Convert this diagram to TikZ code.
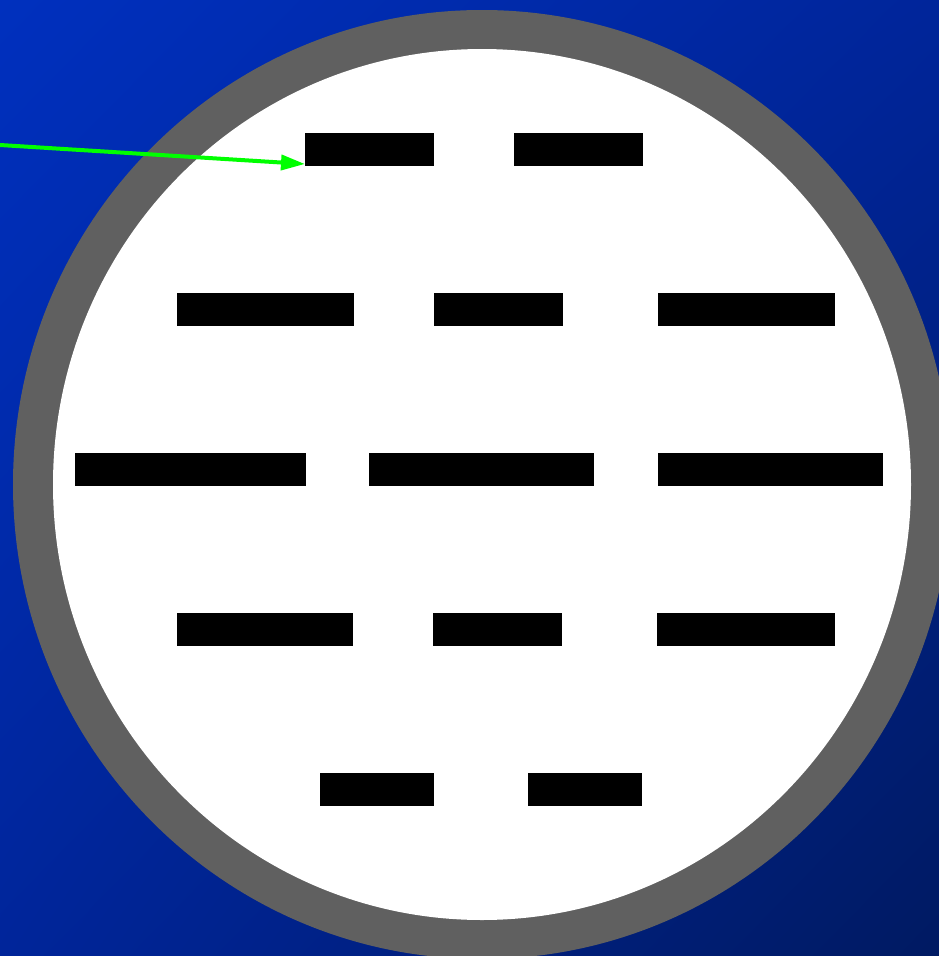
\documentclass[tikz,border=0pt]{standalone}
\usetikzlibrary{arrows.meta,shadings}
\definecolor{bgA}{HTML}{0030BE}
\definecolor{bgB}{HTML}{001A62}
\definecolor{bgC}{HTML}{00259A}
\definecolor{ring}{HTML}{606060}
\definecolor{arrowgreen}{HTML}{00FF00}
\begin{document}
\begin{tikzpicture}[x=1pt,y=-1pt,
  bar/.style={fill=black,draw=none,inner sep=0pt,anchor=north west},
  pointer/.style={draw=arrowgreen,line width=4pt,-{Triangle[length=24pt,width=15pt]}}]
\useasboundingbox (0,0) rectangle (939,956);
\shade[upper left=bgA,upper right=bgC,lower left=bgC,lower right=bgB] (0,0) rectangle (939,956);
\fill[ring] (482,484.5) ellipse [x radius=469, y radius=474.5];
\fill[white] (482,484.5) ellipse [x radius=429, y radius=435.5];
% row 1
\node[bar,minimum width=129pt,minimum height=33pt] (r1a) at (305,133) {};
\node[bar,minimum width=129pt,minimum height=33pt] (r1b) at (514,133) {};
% row 2
\node[bar,minimum width=177pt,minimum height=33pt] (r2a) at (177,293) {};
\node[bar,minimum width=129pt,minimum height=33pt] (r2b) at (434,293) {};
\node[bar,minimum width=177pt,minimum height=33pt] (r2c) at (658,293) {};
% row 3
\node[bar,minimum width=231pt,minimum height=33pt] (r3a) at (75,453) {};
\node[bar,minimum width=225pt,minimum height=33pt] (r3b) at (369,453) {};
\node[bar,minimum width=225pt,minimum height=33pt] (r3c) at (658,453) {};
% row 4
\node[bar,minimum width=176pt,minimum height=33pt] (r4a) at (177,613) {};
\node[bar,minimum width=129pt,minimum height=33pt] (r4b) at (433,613) {};
\node[bar,minimum width=178pt,minimum height=33pt] (r4c) at (657,613) {};
% row 5
\node[bar,minimum width=114pt,minimum height=33pt] (r5a) at (320,773) {};
\node[bar,minimum width=114pt,minimum height=33pt] (r5b) at (528,773) {};
% arrow
\coordinate (src) at (0,145);
\coordinate (tiplevel) at (0,164);
\draw[pointer] (src) -- (r1a.west |- tiplevel);
\end{tikzpicture}
\end{document}
